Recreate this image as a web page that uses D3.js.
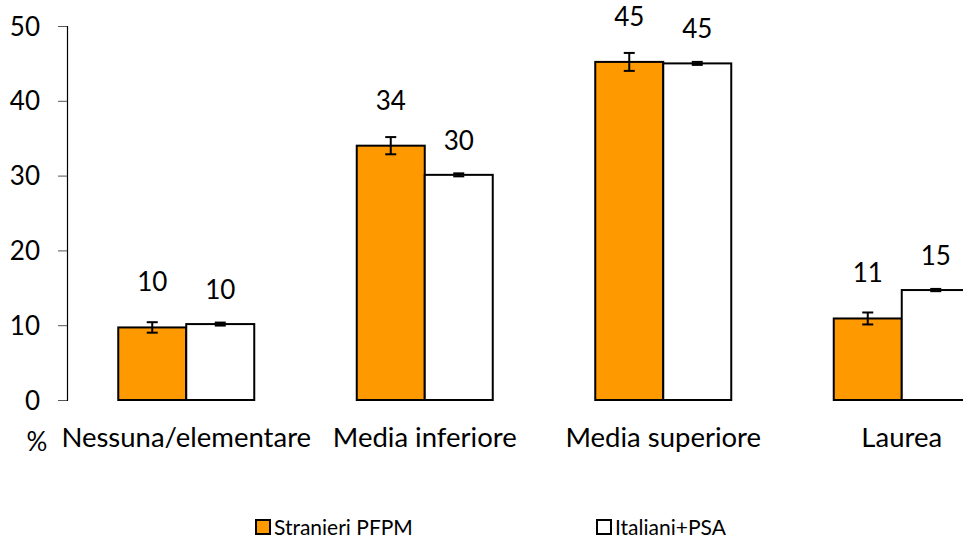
<!DOCTYPE html>
<html><head><meta charset="utf-8">
<script src="https://cdn.jsdelivr.net/npm/d3@7"></script>
<style>
html,body{margin:0;padding:0;background:#fff;overflow:hidden}
text{font-family:Lato,"Open Sans",sans-serif;fill:#000}
</style></head>
<body><svg id="c" width="963" height="540"></svg>
<script>
const categories = ["Nessuna/elementare","Media inferiore","Media superiore","Laurea"];
const seriesNames = ["Stranieri PFPM","Italiani+PSA"];
const stranieri = [9.7, 34.0, 45.2, 10.9];
const stranieriErr = [0.7, 1.15, 1.2, 0.8];
const italiani = [10.15, 30.1, 45.0, 14.7];
const italianiErr = [0.2, 0.2, 0.2, 0.15];
const yTicks = [0,10,20,30,40,50];
const colors = ["#FF9900","#FFFFFF"];

const svg = d3.select("#c");
const y = d3.scaleLinear().domain([0,50]).range([400,26]);
const x = d3.scaleBand().domain(categories).range([67,1021]).paddingInner(0).paddingOuter(0);
const step = x.bandwidth();
const barW = 68;

const series = [
  {name: seriesNames[0], vals: stranieri, err: stranieriErr, color: colors[0], off: -barW, lab: 36},
  {name: seriesNames[1], vals: italiani, err: italianiErr, color: colors[1], off: 0, lab: 25}
];

// y axis
const yAxis = d3.axisLeft(y).tickValues(yTicks).tickSize(9).tickPadding(18).tickFormat(d3.format("d"));
const ga = svg.append("g").attr("transform","translate(67,0)").call(yAxis);
ga.select(".domain").attr("stroke","#000").attr("stroke-width",1.2);
ga.selectAll(".tick line").attr("stroke","#555");
ga.selectAll(".tick text").style("font-size","26px").attr("dy","0.35em");

series.forEach(s => {
  const g = svg.append("g");
  categories.forEach((c,i) => {
    const cx = x(c) + step/2;
    const v = s.vals[i];
    g.append("rect").attr("x", cx + s.off).attr("y", y(v))
      .attr("width", barW).attr("height", y(0)-y(v))
      .attr("fill", s.color).attr("stroke","#000").attr("stroke-width",2);
    const bx = cx + s.off + barW/2;
    const e = s.err[i];
    const eg = g.append("g").attr("stroke","#000").attr("stroke-width",2);
    eg.append("line").attr("x1",bx).attr("x2",bx).attr("y1",y(v+e)).attr("y2",y(v-e));
    eg.append("line").attr("x1",bx-5.5).attr("x2",bx+5.5).attr("y1",y(v+e)).attr("y2",y(v+e));
    eg.append("line").attr("x1",bx-5.5).attr("x2",bx+5.5).attr("y1",y(v-e)).attr("y2",y(v-e));
    g.append("text").attr("x",bx).attr("y",y(v)-s.lab).attr("text-anchor","middle")
      .style("font-size","26px").text(d3.format(".0f")(v));
  });
});

// category labels
svg.append("g").selectAll("text").data(categories).join("text")
  .attr("x", d => x(d)+step/2).attr("y", 447).attr("text-anchor","middle")
  .style("font-size","27.5px").text(d => d);
svg.append("text").attr("x",37).attr("y",451).attr("text-anchor","middle").style("font-size","26px").text("%");

// legend
const legX = [255, 596];
series.forEach((s,i) => {
  svg.append("rect").attr("x",legX[i]+1).attr("y",520).attr("width",14).attr("height",14)
    .attr("fill",s.color).attr("stroke","#000").attr("stroke-width",2);
  svg.append("text").attr("x",legX[i]+19).attr("y",535).style("font-size","21px").text(s.name);
});
</script></body></html>
